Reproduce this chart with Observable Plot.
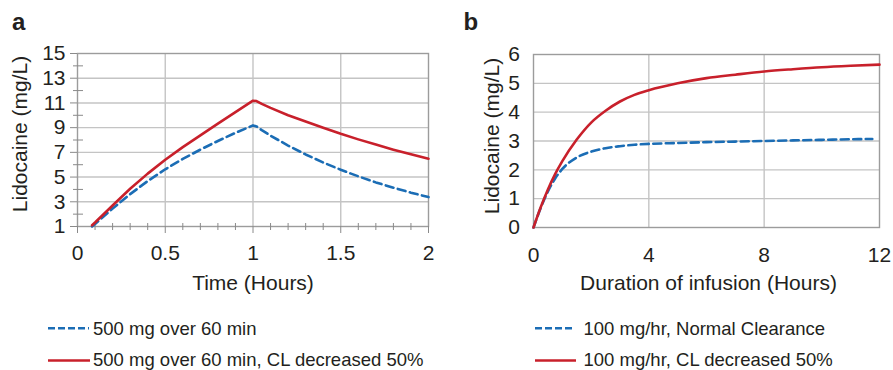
<!DOCTYPE html>
<html>
<head>
<meta charset="utf-8">
<script src="https://cdn.jsdelivr.net/npm/d3@7"></script>
<script src="https://cdn.jsdelivr.net/npm/@observablehq/plot@0.6"></script>
<style>
  html, body { margin: 0; padding: 0; background: #fff; }
  #wrap { position: relative; width: 893px; height: 370px; overflow: hidden; font-family: "Liberation Sans", Arial, sans-serif; color: #231f20; }
  #wrap > .panel { position: absolute; top: 0; }
  #legend { position: absolute; left: 0; top: 300px; }
</style>
</head>
<body>
<div id="wrap">
  <div class="panel" id="pa" style="left:0px"></div>
  <div class="panel" id="pb" style="left:445px"></div>
  <svg id="legend" width="893" height="70"></svg>
</div>
<script>
// ---- Panel a data ----
const tA = [0.083, 0.1, 0.2, 0.3, 0.4, 0.5, 0.6, 0.7, 0.8, 0.9, 1.0, 1.02, 1.05, 1.1, 1.2, 1.3, 1.4, 1.5, 1.6, 1.7, 1.8, 1.9, 2.0];
const aNormal = [1.0, 1.2, 2.45, 3.62, 4.68, 5.63, 6.47, 7.22, 7.92, 8.58, 9.18, 9.1, 8.8, 8.35, 7.55, 6.83, 6.18, 5.59, 5.06, 4.57, 4.14, 3.74, 3.38];
const aCL = [1.1, 1.32, 2.7, 4.05, 5.28, 6.4, 7.42, 8.38, 9.32, 10.26, 11.18, 11.15, 10.92, 10.6, 10.0, 9.49, 8.99, 8.5, 8.05, 7.63, 7.22, 6.84, 6.48];
const xTicksA = [0, 0.5, 1, 1.5, 2];
const xMinorA = [0.1, 0.2, 0.3, 0.4, 0.6, 0.7, 0.8, 0.9, 1.1, 1.2, 1.3, 1.4, 1.6, 1.7, 1.8, 1.9];
const yTicksA = [1, 3, 5, 7, 9, 11, 13, 15];
const yMinorA = [2, 4, 6, 8, 10, 12, 14];
const xGridA = [0.5, 1, 1.5];
const yGridA = [3, 5, 7, 9, 11, 13];

// ---- Panel b data ----
const tBNormal = [0, 0.25, 0.5, 0.75, 1, 1.5, 2, 2.5, 3, 3.5, 4, 5, 6, 7, 8, 9, 10, 11, 11.75];
const bNormal = [0, 0.68, 1.25, 1.7, 2.03, 2.43, 2.63, 2.75, 2.82, 2.87, 2.9, 2.93, 2.96, 2.98, 3.0, 3.02, 3.04, 3.06, 3.07];
const tBCL = [0, 0.25, 0.5, 0.75, 1, 1.5, 2, 2.5, 3, 3.5, 4, 5, 6, 7, 8, 9, 10, 11, 12];
const bCL = [0, 0.7, 1.32, 1.85, 2.3, 3.05, 3.64, 4.05, 4.37, 4.6, 4.76, 5.0, 5.18, 5.3, 5.41, 5.49, 5.56, 5.61, 5.65];
const xTicksB = [0, 4, 8, 12];
const yTicksB = [0, 1, 2, 3, 4, 5, 6];
const xGridB = [4, 8];
const yGridB = [1, 2, 3, 4, 5];

// ---- Text ----
const yTitle = "Lidocaine (mg/L)";
const xTitleA = "Time (Hours)";
const xTitleB = "Duration of infusion (Hours)";
const legendA = ["500 mg over 60 min", "500 mg over 60 min, CL decreased 50%"];
const legendB = ["100 mg/hr, Normal Clearance", "100 mg/hr, CL decreased 50%"];

const BLUE = "#1b6db5";
const RED = "#c8202b";
const GRID = "#c4c4c4";
const FRAME = "#9c9c9c";
const TICK = "#8a8a8a";
const INK = "#231f20";
const FONT = "'Liberation Sans', Arial, sans-serif";
const DASH = "8,4.5";

const seriesA = tA.map((t, i) => ({t, v: aNormal[i]}));
const seriesACL = tA.map((t, i) => ({t, v: aCL[i]}));
const seriesB = tBNormal.map((t, i) => ({t, v: bNormal[i]}));
const seriesBCL = tBCL.map((t, i) => ({t, v: bCL[i]}));

const fmt = d => String(d);

const plotA = Plot.plot({
  width: 445, height: 300,
  marginLeft: 77, marginRight: 17, marginTop: 53, marginBottom: 74,
  style: {fontFamily: FONT, fontSize: "21px", color: INK, background: "transparent"},
  x: {domain: [0, 2], label: null},
  y: {domain: [1, 15], label: null},
  marks: [
    Plot.gridX(xGridA, {stroke: GRID, strokeOpacity: 1, strokeWidth: 1.4}),
    Plot.gridY(yGridA, {stroke: GRID, strokeOpacity: 1, strokeWidth: 1.4}),
    Plot.frame({stroke: FRAME, strokeWidth: 1.4}),
    Plot.axisY(yTicksA, {tickSize: 7, tickPadding: 5, stroke: TICK, tickFormat: fmt, fontSize: 21}),
    Plot.axisY(yMinorA, {tickSize: 10, dx: 6, stroke: TICK, tickFormat: () => ""}),
    Plot.axisX(xTicksA, {tickSize: 7, tickPadding: 12, stroke: TICK, tickFormat: fmt, fontSize: 21}),
    Plot.axisX(xMinorA, {tickSize: 7, dy: -3, stroke: TICK, tickFormat: () => ""}),
    Plot.line(seriesA, {x: "t", y: "v", stroke: BLUE, strokeWidth: 2.6, strokeDasharray: DASH, strokeLinejoin: "round"}),
    Plot.line(seriesACL, {x: "t", y: "v", stroke: RED, strokeWidth: 2.6, strokeLinejoin: "round"}),
    Plot.text([yTitle], {text: d => d, frameAnchor: "left", textAnchor: "middle", rotate: -90, dx: -57, dy: -6, fontSize: 21, fill: INK}),
    Plot.text([xTitleA], {text: d => d, frameAnchor: "bottom", textAnchor: "middle", lineAnchor: "bottom", dy: 63, fontSize: 21, fill: INK}),
    Plot.text(["a"], {text: d => d, frameAnchor: "top-left", textAnchor: "start", lineAnchor: "bottom", dx: -65.5, dy: -23.7, fontSize: 24, fontWeight: "bold", fill: INK})
  ]
});
document.getElementById("pa").appendChild(plotA);

const plotB = Plot.plot({
  width: 448, height: 300,
  marginLeft: 88, marginRight: 14, marginTop: 54, marginBottom: 73,
  style: {fontFamily: FONT, fontSize: "21px", color: INK, background: "transparent"},
  x: {domain: [0, 12], label: null},
  y: {domain: [0, 6], label: null},
  marks: [
    Plot.gridX(xGridB, {stroke: GRID, strokeOpacity: 1, strokeWidth: 1.4}),
    Plot.gridY(yGridB, {stroke: GRID, strokeOpacity: 1, strokeWidth: 1.4}),
    Plot.frame({stroke: FRAME, strokeWidth: 1.4}),
    Plot.axisY(yTicksB, {tickSize: 0, tickPadding: 13.5, tickFormat: fmt, fontSize: 21}),
    Plot.axisX(xTicksB, {tickSize: 0, tickPadding: 20, tickFormat: fmt, fontSize: 21}),
    Plot.line(seriesB, {x: "t", y: "v", stroke: BLUE, strokeWidth: 2.6, strokeDasharray: DASH, curve: "monotone-x"}),
    Plot.line(seriesBCL, {x: "t", y: "v", stroke: RED, strokeWidth: 2.6, curve: "monotone-x"}),
    Plot.text([yTitle], {text: d => d, frameAnchor: "left", textAnchor: "middle", rotate: -90, dx: -41, dy: -5, fontSize: 21, fill: INK}),
    Plot.text([xTitleB], {text: d => d, frameAnchor: "bottom", textAnchor: "middle", lineAnchor: "bottom", dy: 62.3, dx: 2, fontSize: 21, fill: INK}),
    Plot.text(["b"], {text: d => d, frameAnchor: "top-left", textAnchor: "start", lineAnchor: "bottom", dx: -70, dy: -24.7, fontSize: 24, fontWeight: "bold", fill: INK})
  ]
});
document.getElementById("pb").appendChild(plotB);

// ---- Legend (below the plots) ----
const lg = d3.select("#legend");
const legendItems = [
  {x0: 48, x1: 89, tx: 93, row: 0, color: BLUE, dash: "7,3", label: legendA[0]},
  {x0: 48, x1: 90, tx: 93, row: 1, color: RED, dash: null, label: legendA[1]},
  {x0: 535, x1: 575, tx: 583.5, row: 0, color: BLUE, dash: "7,3", label: legendB[0]},
  {x0: 535, x1: 576, tx: 583.5, row: 1, color: RED, dash: null, label: legendB[1]}
];
const rowLineY = [28.3, 60.5];
const rowBaseY = [35, 66];
for (const it of legendItems) {
  lg.append("line")
    .attr("x1", it.x0).attr("x2", it.x1)
    .attr("y1", rowLineY[it.row]).attr("y2", rowLineY[it.row])
    .attr("stroke", it.color).attr("stroke-width", 2.6)
    .attr("stroke-dasharray", it.dash);
  lg.append("text")
    .attr("x", it.tx).attr("y", rowBaseY[it.row])
    .attr("font-family", FONT).attr("font-size", 18.5).attr("fill", INK)
    .text(it.label);
}
</script>
</body>
</html>
